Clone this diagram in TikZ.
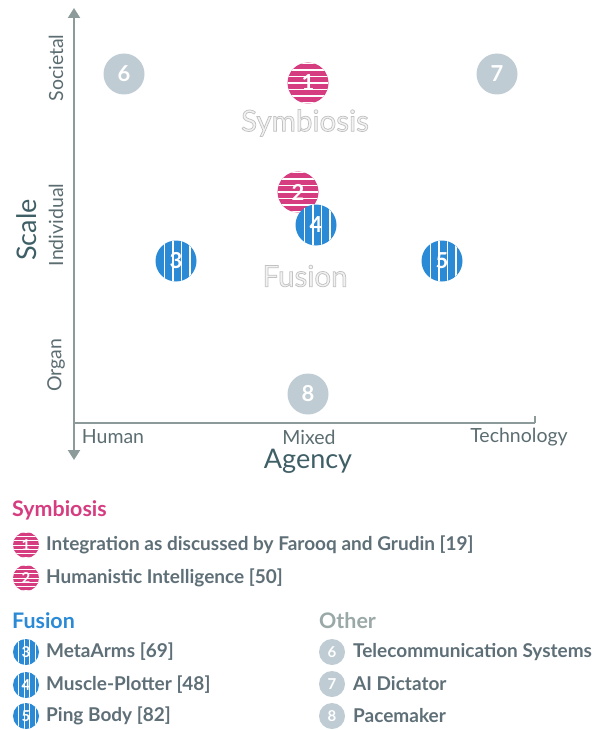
\documentclass[tikz,border=0pt]{standalone}
\usepackage{fontspec}
\setmainfont{Lato}
\newfontfamily\ghostfont[FakeBold=2.5]{Lato}
\usetikzlibrary{arrows.meta}
\definecolor{pinkc}{HTML}{D63C80}
\definecolor{bluec}{HTML}{2A8AD6}
\definecolor{grayball}{HTML}{BFCCD4}
\definecolor{axisc}{HTML}{8C9B99}
\definecolor{labc}{HTML}{5C6D72}
\definecolor{titc}{HTML}{3F5F66}
\definecolor{legc}{HTML}{5E6F77}
\definecolor{othc}{HTML}{9AA8A8}
\definecolor{ghostfill}{HTML}{F2F2F2}
\tikzset{
  axisline/.style={draw=axisc, line width=2pt},
  ball/.style={circle, minimum size=41pt, inner sep=0pt, text=white, font=\fontsize{22}{22}\selectfont\bfseries},
  pinkball/.style={ball, fill=pinkc, path picture={\foreach \k in {-3,...,3}{\draw[white,line width=1.3pt] ([yshift=\k*6.5pt]path picture bounding box.west) -- ([yshift=\k*6.5pt]path picture bounding box.east);}}},
  blueball/.style={ball, fill=bluec, path picture={\foreach \k in {-11.5,-3,5.5,14}{\draw[white,line width=1.3pt] ([xshift=\k pt]path picture bounding box.south) -- ([xshift=\k pt]path picture bounding box.north);}}},
  grayb/.style={ball, fill=grayball},
  lball/.style={circle, minimum size=26pt, inner sep=0pt, text=white, font=\fontsize{15}{15}\selectfont\bfseries},
  lpink/.style={lball, fill=pinkc, path picture={\foreach \k in {-3,...,3}{\draw[white,line width=0.9pt] ([yshift=\k*4.2pt]path picture bounding box.west) -- ([yshift=\k*4.2pt]path picture bounding box.east);}}},
  lblue/.style={lball, fill=bluec, path picture={\foreach \k in {-7.5,-2,3.5,9}{\draw[white,line width=0.9pt] ([xshift=\k pt]path picture bounding box.south) -- ([xshift=\k pt]path picture bounding box.north);}}},
  lgray/.style={lball, fill=grayball},
  legtext/.style={anchor=west, text=legc, font=\fontsize{19}{22}\selectfont\bfseries, inner sep=0pt},
  leghead/.style={anchor=west, font=\fontsize{21.4}{24}\selectfont\bfseries, inner sep=0pt},
  ticklab/.style={text=labc, font=\fontsize{19.5}{22}\selectfont, inner sep=0pt},
  axtitle/.style={text=titc, font=\fontsize{27}{30}\selectfont, inner sep=0pt},
  ghost/.style={text=ghostfill, font=\fontsize{29.5}{32}\ghostfont, inner sep=0pt},
}
\newcommand{\ghoststroke}{\special{pdf:literal direct 0.76 0.76 0.76 RG}}
\begin{document}
\begin{tikzpicture}[x=1pt,y=-1pt]
\useasboundingbox[fill=white] (0,0) rectangle (596,730);
% axes
\coordinate (ytop) at (74,8);
\coordinate (ybot) at (74,460);
\coordinate (origin) at (74,423);
\coordinate (xend) at (535,423);
\coordinate (xtick) at (535,416);
\draw[axisline, {Triangle[width=12pt,length=10pt]}-{Triangle[width=12pt,length=10pt]}] (ybot) -- (ytop);
\draw[axisline] (origin) -- (xend);
\draw[axisline] (xend) -- (xtick);
% axis labels
\node[ticklab, rotate=90] (soc) at (56,68) {Societal};
\node[ticklab, rotate=90] (ind) at (56,225) {Individual};
\node[ticklab, rotate=90] (org) at (56,365) {Organ};
\node[axtitle, rotate=90] (scale) at (27,230) {Scale};
\node[ticklab] (hum) at (113,437) {Human};
\node[ticklab] (mix) at (309,437) {Mixed};
\node[ticklab] (tech) at (519,437) {Technology};
\node[axtitle] (agency) at (308,461) {Agency};
% ghost labels
\node[ghost] (gsym) at (305,123) {\ghoststroke Symbiosis};
\node[ghost] (gfus) at (305,276) {\ghoststroke Fusion};
% points
\node[grayb] (p6) at (124,74) {6};
\node[grayb] (p7) at (497,74) {7};
\node[pinkball] (p1) at (308,83) {1};
\node[pinkball] (p2) at (298,192) {2};
\node[blueball] (p4) at (316,225) {4};
\node[blueball] (p3) at (176,261) {3};
\node[blueball] (p5) at (442,261) {5};
\node[grayb] (p8) at (308,394) {8};
% legend
\node[leghead, text=pinkc] (hsym) at (12,510) {Symbiosis};
\node[lpink] (l1) at (26,545) {1};
\node[legtext] (t1) at (46,545) {Integration as discussed by Farooq and Grudin [19]};
\node[lpink] (l2) at (26,578) {2};
\node[legtext] (t2) at (46,578) {Humanistic Intelligence [50]};
\node[leghead, text=bluec] (hfus) at (12,621) {Fusion};
\node[lblue] (l3) at (26,652) {3};
\node[legtext] (t3) at (46,652) {MetaArms [69]};
\node[lblue] (l4) at (26,685) {4};
\node[legtext] (t4) at (46,685) {Muscle-Plotter [48]};
\node[lblue] (l5) at (26,716) {5};
\node[legtext] (t5) at (46,716) {Ping Body [82]};
\node[leghead, text=othc] (hoth) at (319,621) {Other};
\node[lgray] (l6) at (332,652) {6};
\node[legtext] (t6) at (353,652) {Telecommunication Systems};
\node[lgray] (l7) at (332,684) {7};
\node[legtext] (t7) at (353,684) {AI Dictator};
\node[lgray] (l8) at (332,716) {8};
\node[legtext] (t8) at (353,716) {Pacemaker};
\end{tikzpicture}
\end{document}
